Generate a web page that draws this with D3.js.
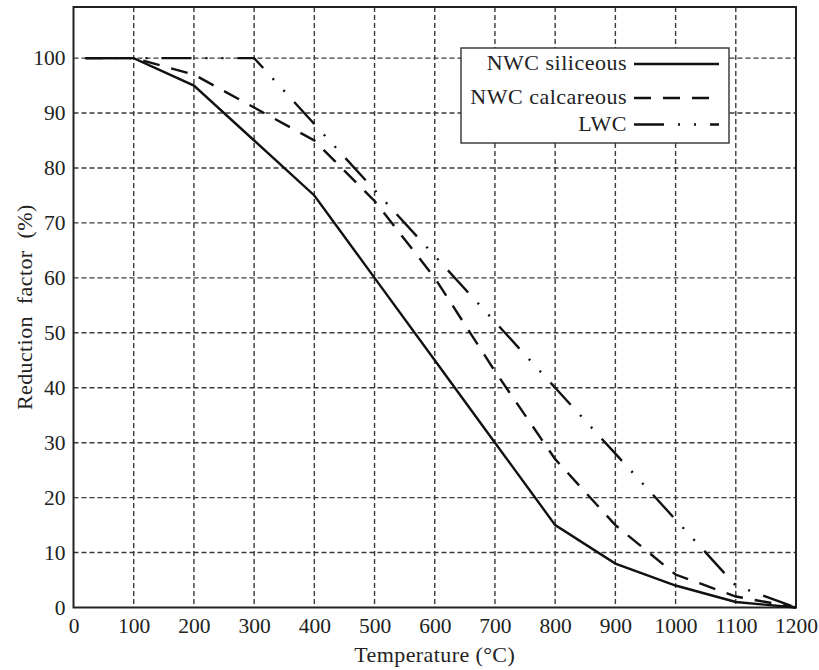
<!DOCTYPE html>
<html>
<head>
<meta charset="utf-8">
<script src="https://cdn.jsdelivr.net/npm/d3@7/dist/d3.min.js"></script>
<style>
	body { margin: 0; background: #fff; }
	text { font-family: "Liberation Serif", "DejaVu Serif", serif; fill: #222; }
</style>
</head>
<body>
<div id="chart"></div>
<script>
/* jshint esversion: 6 */
////////////////////////////////////////////////////////////////////////////
//// Data //////////////////////////////////////////////////////////////////
////////////////////////////////////////////////////////////////////////////

const seriesNames = ["NWC siliceous", "NWC calcareous", "LWC"];

// Temperature (°C) and reduction factor (%) per concrete type
const siliceousTemp = [20, 100, 200, 300, 400, 500, 600, 700, 800, 900, 1000, 1100, 1200];
const siliceousVal  = [100, 100, 95, 85, 75, 60, 45, 30, 15, 8, 4, 1, 0];

const calcareousTemp = [20, 100, 200, 300, 400, 500, 600, 700, 800, 900, 1000, 1100, 1200];
const calcareousVal  = [100, 100, 97, 91, 85, 74, 60, 43, 27, 15, 6, 2, 0];

const lwcTemp = [20, 300, 400, 500, 600, 700, 800, 900, 1000, 1100, 1200];
const lwcVal  = [100, 100, 88, 76, 64, 52, 40, 28, 16, 4, 0];

const xTicks = [0, 100, 200, 300, 400, 500, 600, 700, 800, 900, 1000, 1100, 1200];
const yTicks = [0, 10, 20, 30, 40, 50, 60, 70, 80, 90, 100];

////////////////////////////////////////////////////////////////////////////
//// Set up ////////////////////////////////////////////////////////////////
////////////////////////////////////////////////////////////////////////////

const width = 819,
			height = 670;
const margin = { top: 7, right: 23, bottom: 62.5, left: 73.5 };
const innerW = width - margin.left - margin.right,
			innerH = height - margin.top - margin.bottom;

const dashes = ["none", "17,12", "30,14,2,14,2,14"];

const series = [
	{ name: seriesNames[0], dash: dashes[0], points: siliceousTemp.map((t, i) => [t, siliceousVal[i]]) },
	{ name: seriesNames[1], dash: dashes[1], points: calcareousTemp.map((t, i) => [t, calcareousVal[i]]) },
	{ name: seriesNames[2], dash: dashes[2], points: lwcTemp.map((t, i) => [t, lwcVal[i]]) }
];

const x = d3.scaleLinear().domain([0, 1200]).range([0, innerW]);
const y = d3.scaleLinear().domain([0, 109.3]).range([innerH, 0]);

const svg = d3.select("#chart").append("svg")
		.attr("width", width)
		.attr("height", height);

const g = svg.append("g")
		.attr("transform", `translate(${margin.left},${margin.top})`);

////////////////////////////////////////////////////////////////////////////
//// Grid //////////////////////////////////////////////////////////////////
////////////////////////////////////////////////////////////////////////////

const grid = g.append("g")
		.attr("stroke", "#3a3a3a")
		.attr("stroke-width", 1.4)
		.attr("stroke-dasharray", "5,3");

grid.selectAll(".vgrid")
	.data(xTicks.filter(d => d > 0 && d < 1200))
	.enter().append("line")
		.attr("x1", d => x(d)).attr("x2", d => x(d))
		.attr("y1", 0).attr("y2", innerH);

grid.selectAll(".hgrid")
	.data(yTicks.filter(d => d > 0))
	.enter().append("line")
		.attr("x1", 0).attr("x2", innerW)
		.attr("y1", d => y(d)).attr("y2", d => y(d));

////////////////////////////////////////////////////////////////////////////
//// Axes //////////////////////////////////////////////////////////////////
////////////////////////////////////////////////////////////////////////////

const xAxis = g.append("g")
		.attr("transform", `translate(0,${innerH})`)
		.call(d3.axisBottom(x).tickValues(xTicks).tickFormat(d3.format("d")).tickSize(0).tickPadding(10));
const yAxis = g.append("g")
		.call(d3.axisLeft(y).tickValues(yTicks).tickFormat(d3.format("d")).tickSize(0).tickPadding(8));

[xAxis, yAxis].forEach(a => {
	a.select(".domain").remove();
	a.selectAll("text")
			.style("font-family", '"Liberation Serif", "DejaVu Serif", serif')
			.style("font-size", "21.5px")
			.attr("fill", "#222");
});

// Frame
g.append("rect")
		.attr("width", innerW)
		.attr("height", innerH)
		.attr("fill", "none")
		.attr("stroke", "#222")
		.attr("stroke-width", 2);

// Axis titles
svg.append("text")
		.attr("x", margin.left + innerW / 2)
		.attr("y", 662)
		.attr("text-anchor", "middle")
		.style("font-size", "22px")
		.style("letter-spacing", "0.4px")
		.text("Temperature (°C)");

svg.append("text")
		.attr("transform", `translate(32,${margin.top + innerH / 2}) rotate(-90)`)
		.attr("text-anchor", "middle")
		.style("font-size", "22px")
		.style("letter-spacing", "0.4px")
		.style("word-spacing", "6px")
		.text("Reduction factor (%)");

////////////////////////////////////////////////////////////////////////////
//// Lines /////////////////////////////////////////////////////////////////
////////////////////////////////////////////////////////////////////////////

const line = d3.line()
		.x(d => x(d[0]))
		.y(d => y(d[1]));

g.selectAll(".series")
	.data(series)
	.enter().append("path")
		.attr("class", "series")
		.attr("d", d => line(d.points))
		.attr("fill", "none")
		.attr("stroke", "#111")
		.attr("stroke-width", 2.4)
		.attr("stroke-dasharray", d => d.dash);

////////////////////////////////////////////////////////////////////////////
//// Legend ////////////////////////////////////////////////////////////////
////////////////////////////////////////////////////////////////////////////

const legend = svg.append("g")
		.attr("transform", "translate(461,48)");

legend.append("rect")
		.attr("width", 268)
		.attr("height", 95)
		.attr("fill", "#fff")
		.attr("stroke", "#333")
		.attr("stroke-width", 1.4);

const rows = legend.selectAll(".row")
	.data(series)
	.enter().append("g")
		.attr("transform", (d, i) => `translate(0,${[16, 50, 76.5][i]})`);

rows.append("text")
		.attr("x", 166)
		.attr("y", 6)
		.attr("text-anchor", "end")
		.style("font-size", "22px")
		.style("letter-spacing", "0.5px")
		.text(d => d.name);

rows.append("line")
		.attr("x1", 173).attr("x2", 258)
		.attr("stroke", "#111")
		.attr("stroke-width", 2.4)
		.attr("stroke-dasharray", d => d.dash);
</script>
</body>
</html>
